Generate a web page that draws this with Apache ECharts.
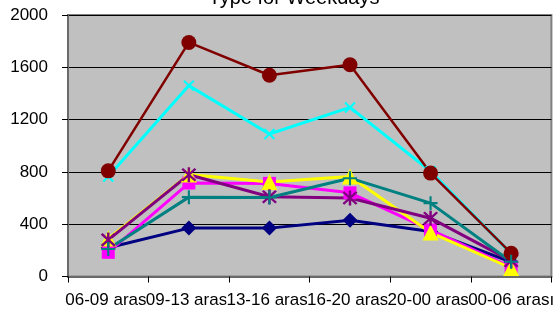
<!DOCTYPE html>
<html>
<head>
<meta charset="utf-8">
<script src="https://cdn.jsdelivr.net/npm/echarts@6/dist/echarts.min.js"></script>
<style>
  html, body { margin: 0; padding: 0; background: #fff; }
  #chart { width: 557px; height: 316px; }
</style>
</head>
<body>
<div id="chart"></div>
<script>
  // time slots (Turkish labels)
  var categories = ["06-09 arası", "09-13 arası", "13-16 arası", "16-20 arası", "20-00 arası", "00-06 arası"];
  var yTicks = [0, 400, 800, 1200, 1600, 2000];

  var seri1 = [220, 370, 370, 430, 345, 110];   // navy diamond
  var seri2 = [185, 715, 712, 640, 356, 72];    // magenta square
  var seri3 = [290, 780, 722, 765, 336, 65];    // yellow triangle
  var seri4 = [765, 1460, 1090, 1293, 805, 175]; // cyan x
  var seri5 = [280, 778, 610, 600, 446, 120];   // purple star
  var seri6 = [808, 1790, 1539, 1620, 791, 178]; // dark red circle
  var seri7 = [210, 607, 604, 752, 561, 113];   // teal plus

  var plusPath = "path://M-1.5,-10 L1.5,-10 L1.5,-1.5 L10,-1.5 L10,1.5 L1.5,1.5 L1.5,10 L-1.5,10 L-1.5,1.5 L-10,1.5 L-10,-1.5 L-1.5,-1.5 Z";
  var starPath = "path://M-1.5,-10 L1.5,-10 L1.5,10 L-1.5,10 Z " +
    "M-6.94,-9.06 L9.06,6.94 L6.94,9.06 L-9.06,-6.94 Z " +
    "M6.94,-9.06 L9.06,-6.94 L-6.94,9.06 L-9.06,6.94 Z";

  function line(name, data, color, symbol, size, extra) {
    var s = {
      name: name,
      type: "line",
      data: data,
      symbol: symbol,
      symbolSize: size,
      lineStyle: { color: color, width: 3 },
      itemStyle: { color: color, borderWidth: 0 },
      emphasis: { disabled: true },
      animation: false
    };
    if (extra) { for (var k in extra) s[k] = extra[k]; }
    return s;
  }

  var chart = echarts.init(document.getElementById("chart"));
  chart.setOption({
    animation: false,
    title: {
      text: "Type for Weekdays",
      left: 289,
      textAlign: "center",
      top: -17,
      textStyle: { fontFamily: "Liberation Sans", fontSize: 20, fontWeight: "normal", color: "#000" }
    },
    grid: {
      left: 68, right: 4, top: 15, bottom: 39.5,
      show: true,
      backgroundColor: "#C0C0C0",
      borderColor: "#808080",
      borderWidth: 2
    },
    xAxis: {
      type: "category",
      data: categories,
      boundaryGap: true,
      axisLine: { lineStyle: { color: "#6a6a6a", width: 2 } },
      axisTick: { show: true, length: 6, lineStyle: { color: "#000", width: 1 } },
      axisLabel: {
        interval: 0,
        margin: 15,
        fontFamily: "Liberation Sans",
        fontSize: 17,
        color: "#000",
        backgroundColor: "#fff",
        padding: 0
      },
      splitLine: { show: false }
    },
    yAxis: {
      type: "value",
      min: yTicks[0],
      max: yTicks[yTicks.length - 1],
      interval: 400,
      axisLine: { show: true, lineStyle: { color: "#6a6a6a", width: 2 } },
      axisTick: { show: true, length: 6, lineStyle: { color: "#000", width: 1 } },
      axisLabel: {
        margin: 20,
        fontFamily: "Liberation Sans",
        fontSize: 17,
        color: "#000",
        formatter: function (v) { return String(v); }
      },
      splitLine: { show: true, lineStyle: { color: "#000", width: 1 } }
    },
    series: [
      line("Seri1", seri1, "#000080", "diamond", 15),
      line("Seri2", seri2, "#FF00FF", "rect", 13),
      line("Seri3", seri3, "#FFFF00", "triangle", 16),
      line("Seri4", seri4, "#00FFFF", plusPath, 14, { symbolRotate: 45 }),
      line("Seri5", seri5, "#800080", starPath, 15),
      line("Seri6", seri6, "#800000", "circle", 15, { lineStyle: { color: "#800000", width: 2.5 } }),
      line("Seri7", seri7, "#008080", plusPath, 14)
    ]
  });
</script>
</body>
</html>
